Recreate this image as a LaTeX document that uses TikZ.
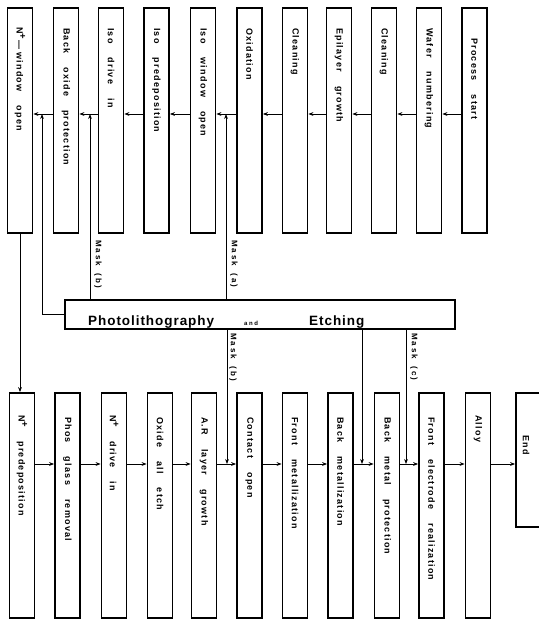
\documentclass[tikz,border=0pt]{standalone}
\usepackage{fontspec}
\setmainfont{Liberation Sans}
\newfontfamily\stepfont{Liberation Sans}[LetterSpace=14]
\newfontfamily\maskfont{Liberation Sans}[LetterSpace=26]
\newfontfamily\titlefont{Liberation Sans}[LetterSpace=7]
\usetikzlibrary{arrows.meta}
\newcommand\wg{\hspace{14pt}}
\newcommand\plus{\raisebox{3pt}{\fontsize{9.5}{9.5}\selectfont +}}

\tikzset{
  stepbox/.style={draw, line width=1.8pt, minimum width=25pt, minimum height=225pt, inner sep=0pt},
  steptext/.style={rotate=-90, anchor=west, inner sep=0pt,
    font=\stepfont\bfseries\fontsize{9}{9}\selectfont},
  masktext/.style={rotate=-90, anchor=west, inner sep=0pt,
    font=\maskfont\bfseries\fontsize{8}{8}\selectfont},
  phtext/.style={anchor=base west, inner sep=0pt,
    font=\titlefont\bfseries\fontsize{13.5}{13.5}\selectfont},
  link/.style={line width=0.9pt, -{Stealth[length=5pt,width=3.8pt]}},
}

\begin{document}
\begin{tikzpicture}[x=1pt,y=-1pt]
\useasboundingbox (0,0) rectangle (538,620);

% upper row of process steps (flow runs right to left)
\node[stepbox] (p1)  at (20,120.5)  {};
\node[stepbox] (p2)  at (66,120.5)  {};
\node[stepbox] (p3)  at (111,120.5) {};
\node[stepbox] (p4)  at (156.5,120.5) {};
\node[stepbox] (p5)  at (203,120.5) {};
\node[stepbox] (p6)  at (249.5,120.5) {};
\node[stepbox] (p7)  at (295,120.5) {};
\node[stepbox] (p8)  at (339,120.5) {};
\node[stepbox] (p9)  at (384,120.5) {};
\node[stepbox] (p10) at (429,120.5) {};
\node[stepbox] (p11) at (474.5,120.5) {};

\node[steptext] (t1)  at (20,27)    {N\plus\hspace{1pt}—\hspace{3pt}window\wg open};
\node[steptext] (t2)  at (66,28)    {Back\wg oxide\wg protection};
\node[steptext] (t3)  at (111,28)   {Iso\wg drive\wg in};
\node[steptext] (t4)  at (156.5,28) {Iso\wg predeposition};
\node[steptext] (t5)  at (203,28)   {Iso\wg window\wg open};
\node[steptext] (t6)  at (249.5,28) {Oxidation};
\node[steptext] (t7)  at (295,28)   {Cleaning};
\node[steptext] (t8)  at (339,28)   {Epilayer\wg growth};
\node[steptext] (t9)  at (384,28)   {Cleaning};
\node[steptext] (t10) at (429,28)   {Wafer\wg numbering};
\node[steptext] (t11) at (474.5,38) {Process\wg start};

% lower row of process steps (flow runs left to right)
\node[stepbox] (q1)  at (22,505.5)   {};
\node[stepbox] (q2)  at (67.5,505.5) {};
\node[stepbox] (q3)  at (114,505.5)  {};
\node[stepbox] (q4)  at (160,505.5)  {};
\node[stepbox] (q5)  at (204,505.5)  {};
\node[stepbox] (q6)  at (249.5,505.5) {};
\node[stepbox] (q7)  at (295,505.5)  {};
\node[stepbox] (q8)  at (340.5,505.5) {};
\node[stepbox] (q9)  at (387,505.5)  {};
\node[stepbox] (q10) at (431.5,505.5) {};
\node[stepbox] (q11) at (478,505.5)  {};
\node[stepbox, minimum width=48pt, minimum height=134pt] (q12) at (540,460) {};

\node[steptext] (s1)  at (22,415)    {N\plus\wg predeposition};
\node[steptext] (s2)  at (67.5,417)  {Phos\wg glass\wg removal};
\node[steptext] (s3)  at (114,415)   {N\plus\wg drive\wg in};
\node[steptext] (s4)  at (160,417)   {Oxide\wg all\wg etch};
\node[steptext] (s5)  at (204,417)   {A.R\wg layer\wg growth};
\node[steptext] (s6)  at (249.5,417) {Contact\wg open};
\node[steptext] (s7)  at (295,417)   {Front\wg metallization};
\node[steptext] (s8)  at (340.5,417) {Back\wg metallization};
\node[steptext] (s9)  at (387,417)   {Back\wg metal\wg protection};
\node[steptext] (s10) at (431.5,417) {Front\wg electrode\wg realization};
\node[steptext] (s11) at (478,415)   {Alloy};
\node[steptext] (s12) at (526,435)   {End};

% photolithography block
\node[draw, line width=1.8pt, minimum width=390pt, minimum height=29pt, inner sep=0pt]
  (ph) at (260,314.5) {};
\node[phtext] (ph1) at (88,325)  {Photolithography};
\node[phtext, font=\maskfont\bfseries\fontsize{6}{6}\selectfont] (ph2) at (244,325) {and};
\node[phtext] (ph3) at (309,325) {Etching};

% connector levels
\coordinate (ya) at (0,114);
\coordinate (yb) at (0,464);

% upper row flow
\draw[link] (p11.west |- ya) -- (p10.east |- ya);
\draw[link] (p10.west |- ya) -- (p9.east |- ya);
\draw[link] (p9.west |- ya)  -- (p8.east |- ya);
\draw[link] (p8.west |- ya)  -- (p7.east |- ya);
\draw[link] (p7.west |- ya)  -- (p6.east |- ya);
\draw[link] (p6.west |- ya)  -- (p5.east |- ya);
\draw[link] (p5.west |- ya)  -- (p4.east |- ya);
\draw[link] (p4.west |- ya)  -- (p3.east |- ya);
\draw[link] (p3.west |- ya)  -- (p2.east |- ya);
\draw[link] (p2.west |- ya)  -- (p1.east |- ya);

% lower row flow
\draw[link] (q1.east |- yb)  -- (q2.west |- yb);
\draw[link] (q2.east |- yb)  -- (q3.west |- yb);
\draw[link] (q3.east |- yb)  -- (q4.west |- yb);
\draw[link] (q4.east |- yb)  -- (q5.west |- yb);
\draw[link] (q5.east |- yb)  -- (q6.west |- yb);
\draw[link] (q6.east |- yb)  -- (q7.west |- yb);
\draw[link] (q7.east |- yb)  -- (q8.west |- yb);
\draw[link] (q8.east |- yb)  -- (q9.west |- yb);
\draw[link] (q9.east |- yb)  -- (q10.west |- yb);
\draw[link] (q10.east |- yb) -- (q11.west |- yb);
\draw[link] (q11.east |- yb) -- (q12.west |- yb);

% from the upper row down to the lower row
\draw[link] (p1.south) -- (p1.south |- q1.north);

% mask feeds from the photolithography block
\coordinate (mn)  at (42,114);
\coordinate (mb)  at (90,114);
\coordinate (ma)  at (226,114);
\coordinate (mb2) at (227,464);
\coordinate (mm)  at (362,464);
\coordinate (mc)  at (406,464);

\draw[link] (ph.west) -| (mn);
\draw[link] (ph.north -| mb) -- (mb);
\draw[link] (ph.north -| ma) -- (ma);
\draw[link] (ph.south -| mb2) -- (mb2);
\draw[link] (ph.south -| mm) -- (mm);
\draw[link] (ph.south -| mc) -- (mc);

\node[masktext] (lb)  at (98,240)  {Mask\hspace{7pt}(b)};
\node[masktext] (la)  at (234,240) {Mask\hspace{7pt}(a)};
\node[masktext] (lb2) at (233,333) {Mask\hspace{7pt}(b)};
\node[masktext] (lc)  at (414,333) {Mask\hspace{7pt}(c)};
\end{tikzpicture}
\end{document}
